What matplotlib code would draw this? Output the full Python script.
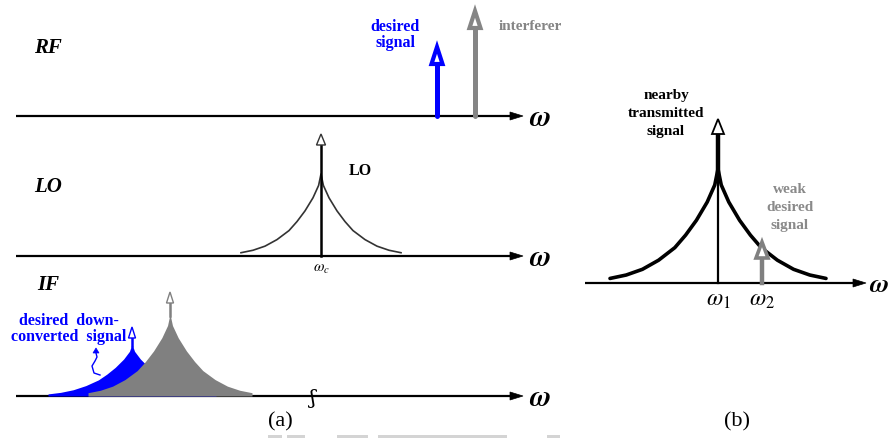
import matplotlib
matplotlib.use("Agg")
import matplotlib.pyplot as plt
from matplotlib.patches import Polygon, Rectangle
import numpy as np

plt.rcParams['mathtext.fontset'] = 'stix'
SERIF = ['Liberation Serif', 'DejaVu Serif']

# ---------------- data ----------------
# normalised phase-noise skirt: offset from carrier (fraction of half-width)
# and level (fraction of peak)
skirt_offset = [0.0, 0.03, 0.10, 0.20, 0.30, 0.40, 0.55, 0.70, 0.85, 1.0]
skirt_level = [1.0, 0.86, 0.71, 0.55, 0.42, 0.31, 0.20, 0.12, 0.07, 0.04]

# panel (a) rows: label, baseline (px)
row_labels = ['RF', 'LO', 'IF']
row_label_y = [48, 187, 285]
row_base = [117, 257, 397]

# RF tones: name, frequency (px), tip height above axis (px)
rf_names = ['desired\nsignal', 'interferer']
rf_freq = [437, 475]
rf_tip = [69, 105]
rf_colors = ['#0000ff', '#858585']

# LO: carrier, skirt half-width, skirt peak, arrow tip
lo_freq = 321
lo_halfwidth = 80
lo_peak = 82
lo_tip = 122

# IF: blue (desired down-converted) and gray (interferer) skirts
if_freq = [132, 170]
if_halfwidth = [84, 82]
if_peak = [52, 82]
if_tip = [69, 104]
if_colors = ['#0000ff', '#808080']

# panel (b)
b_base = 284
b_freq = [718, 762]          # omega1, omega2
b_halfwidth = 108
b_peak = 114
b_tip = [164, 41]


# ---------------- helpers ----------------
def skirt(cx, hw, peak, base):
    off = np.array(skirt_offset)
    lev = np.array(skirt_level)
    x = np.concatenate([cx - off[::-1] * hw, cx + off[1:] * hw])
    h = np.concatenate([lev[::-1], lev[1:]]) * peak
    return x, base - h


def hollow_head(ax, x, tip, length, hw, color, lw):
    ax.add_patch(Polygon([[x - hw, tip + length], [x + hw, tip + length], [x, tip]],
                         closed=True, fc='white', ec=color, lw=lw,
                         joinstyle='miter', zorder=6))


def axis_arrow(ax, x0, x1, y):
    ax.plot([x0, x1 - 8], [y, y], color='black', lw=1.6, zorder=3,
            solid_capstyle='butt')
    ax.add_patch(Polygon([[x1 - 13, y - 4], [x1 - 13, y + 4], [x1, y]],
                         closed=True, fc='black', ec='black', lw=0.5, zorder=3))


fig = plt.figure(figsize=(8.88, 4.39), dpi=100)
ax = fig.add_axes([0, 0, 1, 1])
ax.set_xlim(0, 888)
ax.set_ylim(439, 0)
ax.axis('off')

# faint scan artefacts at the bottom edge
for x0, x1 in [(268, 282), (287, 305), (337, 368), (378, 507), (547, 560)]:
    ax.add_patch(Rectangle((x0, 436), x1 - x0, 3, fc='#d4d4d4', ec='none'))

# ---------- panel (a) axes ----------
OMEGA = r'$\boldsymbol{\omega}$'
for lab, ly, yb in zip(row_labels, row_label_y, row_base):
    axis_arrow(ax, 16, 523, yb)
    ax.text(540, yb + 1, OMEGA, fontsize=21, ha='center', va='center')
    ax.text(48, ly, lab, fontsize=15, fontweight='bold', style='italic',
            family=SERIF, ha='center', va='center')

# RF tones
yb = row_base[0]
for name, f, t, c in zip(rf_names, rf_freq, rf_tip, rf_colors):
    tip = yb - t
    ax.plot([f, f], [yb, tip + 16], color=c, lw=3.6, solid_capstyle='round', zorder=5)
    hollow_head(ax, f, tip, 17, 5.5, c, 3.0)
ax.text(395, 35, rf_names[0], fontsize=11.5, fontweight='bold', family=SERIF,
        color=rf_colors[0], ha='center', va='center', linespacing=1.0)
ax.text(499, 26, rf_names[1], fontsize=11, fontweight='bold', family=SERIF,
        color=rf_colors[1], ha='left', va='center')

# LO
yb = row_base[1]
x, y = skirt(lo_freq, lo_halfwidth, lo_peak, yb)
ax.plot(x, y, color='#333333', lw=1.2, zorder=4)
ax.plot([lo_freq, lo_freq], [yb, yb - lo_tip + 10], color='black', lw=1.8, zorder=5)
hollow_head(ax, lo_freq, yb - lo_tip, 11, 4.5, '#333333', 1.0)
ax.text(360, 171, 'LO', fontsize=11.5, fontweight='bold', family=SERIF,
        ha='center', va='center')
ax.text(lo_freq, 268, r'$\omega_c$', fontsize=11, ha='center', va='center')

# IF
yb = row_base[2]
for f, hw, pk, t, c in zip(if_freq, if_halfwidth, if_peak, if_tip, if_colors):
    x, y = skirt(f, hw, pk, yb)
    ax.fill_between(x, y, yb, color=c, lw=0, zorder=4)
    ax.plot([f, f], [yb - pk + 2, yb - t + 10], color=c, lw=1.8, zorder=4)
    hollow_head(ax, f, yb - t, 11, 3.5, c, 1.0)
ax.text(69, 329, 'desired  down-\nconverted  signal', fontsize=11.5,
        fontweight='bold', family=SERIF, color='#0000ff', ha='center',
        va='center', linespacing=0.95)
# small curly pointer
cx = [100, 94, 92, 95, 97, 96]
cy = [376, 374, 367, 362, 358, 354]
ax.plot(cx, cy, color='#0000ff', lw=1.0, zorder=5)
ax.add_patch(Polygon([[93, 354], [99, 354], [96, 349]], closed=True,
                     fc='#0000ff', ec='#0000ff', lw=0.5, zorder=5))
# axis break mark
ax.text(313, 399, 'ʃ', fontsize=15, family=['DejaVu Serif'], ha='center',
        va='center', zorder=6)
ax.text(280, 422, '(a)', fontsize=16, family=SERIF, ha='center', va='center')

# ---------- panel (b) ----------
axis_arrow(ax, 585, 866, b_base)
ax.text(869, b_base + 1, OMEGA, fontsize=19, ha='left', va='center')
x, y = skirt(b_freq[0], b_halfwidth, b_peak, b_base)
ax.plot(x, y, color='black', lw=2.6, zorder=4, solid_capstyle='round')
ax.plot([b_freq[0], b_freq[0]], [b_base, b_base - b_tip[0] + 14], color='black',
        lw=1.6, zorder=5)
ax.plot([b_freq[0], b_freq[0]], [b_base - b_peak + 5, b_base - b_tip[0] + 14],
        color='black', lw=3.2, zorder=5)
hollow_head(ax, b_freq[0], b_base - b_tip[0], 15, 6, 'black', 1.3)
ax.plot([b_freq[1], b_freq[1]], [b_base, b_base - b_tip[1] + 15], color='#808080',
        lw=3.2, zorder=5)
hollow_head(ax, b_freq[1], b_base - b_tip[1], 16, 6, '#808080', 2.6)
ax.text(666, 114, 'nearby\ntransmitted\nsignal', fontsize=11, fontweight='bold',
        family=SERIF, ha='center', va='center', linespacing=1.5)
ax.text(790, 208, 'weak\ndesired\nsignal', fontsize=11, fontweight='bold',
        family=SERIF, color='#8a8a8a', ha='center', va='center', linespacing=1.5)
ax.text(b_freq[0], 299, r'$\omega_1$', fontsize=17, ha='center', va='center')
ax.text(b_freq[1], 299, r'$\omega_2$', fontsize=17, ha='center', va='center')
ax.text(737, 422, '(b)', fontsize=16, family=SERIF, ha='center', va='center')

fig.savefig('out.png', dpi=100)
